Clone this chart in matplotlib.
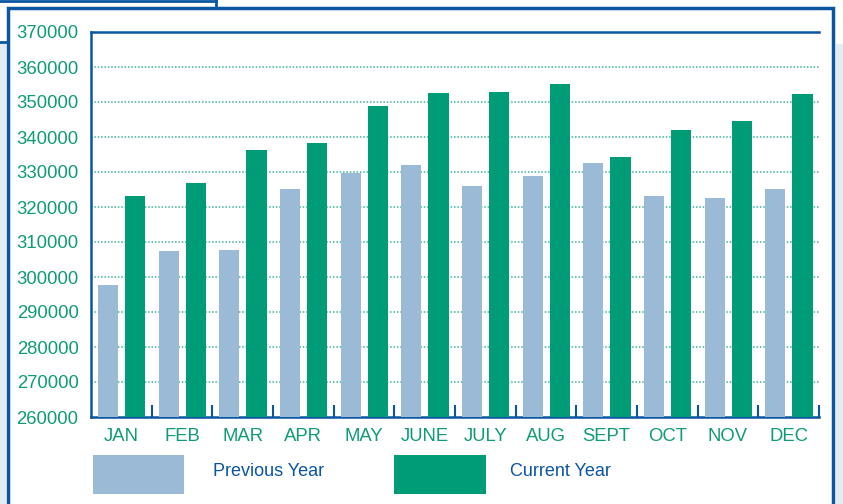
import numpy as np
import matplotlib.pyplot as plt
from matplotlib.patches import Rectangle

months = ["JAN", "FEB", "MAR", "APR", "MAY", "JUNE", "JULY", "AUG", "SEPT", "OCT", "NOV", "DEC"]
previous_year = [297800, 307300, 307600, 325100, 329600, 332000, 326000, 328900, 332600, 323100, 322600, 325100]
current_year = [323100, 326900, 336300, 338300, 348900, 352600, 352900, 355100, 334300, 342000, 344600, 352200]
y_ticks = list(range(260000, 370001, 10000))

blue = "#0a56a3"
green = "#0f9b78"
prev_color = "#9bbad6"
curr_color = "#009b77"

plt.rcParams["font.family"] = ["Liberation Sans", "DejaVu Sans"]

fig = plt.figure(figsize=(8.43, 5.04), dpi=100)

# outer frame and background bits
fig.patches.append(Rectangle((7.5 / 843, -0.05), (832.5 - 7.5) / 843, 0.05 + (504 - 7.5) / 504,
                             transform=fig.transFigure, fill=False, ec=blue, lw=2.5))
fig.patches.append(Rectangle((836 / 843, 0), 7 / 843, (504 - 44) / 504,
                             transform=fig.transFigure, fc="#e3ebf5", ec="none", zorder=-1))
fig.patches.append(Rectangle((0, 0), 6 / 843, (504 - 43) / 504,
                             transform=fig.transFigure, fc="#e3ebf5", ec="none", zorder=-1))
fig.lines.append(plt.Line2D([0, 6 / 843], [1 - 42 / 504, 1 - 42 / 504], transform=fig.transFigure,
                            color=blue, lw=2))
fig.lines.append(plt.Line2D([0, 216 / 843], [1 - 1 / 504, 1 - 1 / 504], transform=fig.transFigure,
                            color=blue, lw=2))
fig.lines.append(plt.Line2D([216 / 843, 216 / 843], [1 - 7 / 504, 1], transform=fig.transFigure,
                            color=blue, lw=2))

ax = fig.add_axes([91 / 843, 1 - 417 / 504, (819 - 91) / 843, (417 - 32) / 504])

x = np.arange(len(months))
w = 0.33
ax.bar(x - 0.222, previous_year, width=w, color=prev_color, zorder=3)
ax.bar(x + 0.228, current_year, width=w, color=curr_color, zorder=3)

ax.set_xlim(-0.5, len(months) - 0.5)
ax.set_ylim(260000, 370000)
ax.set_yticks(y_ticks)
ax.set_yticklabels([str(v) for v in y_ticks])
ax.set_xticks(x)
ax.set_xticklabels(months)
ax.set_xticks(np.arange(len(months)) + 0.5, minor=True)
ax.tick_params(axis="both", which="major", length=0, labelsize=13.3, labelcolor=green)
ax.tick_params(axis="x", which="major", pad=8)
ax.tick_params(axis="y", which="major", pad=9)
ax.tick_params(axis="x", which="minor", direction="in", length=9, width=1.5, color=blue)

for v in y_ticks[1:-1]:
    ax.axhline(v, color="#3fb39a", lw=1.1, ls=(0, (1, 1.2)), zorder=1)

for side in ["left", "bottom", "top"]:
    ax.spines[side].set_color(blue)
    ax.spines[side].set_linewidth(1.8)
ax.spines["right"].set_visible(False)

# legend
fig.patches.append(Rectangle((93 / 843, 1 - 494 / 504), 91 / 843, 39 / 504,
                             transform=fig.transFigure, fc=prev_color, ec="none"))
fig.patches.append(Rectangle((394 / 843, 1 - 494 / 504), 92 / 843, 39 / 504,
                             transform=fig.transFigure, fc=curr_color, ec="none"))
fig.text(213 / 843, 1 - 472 / 504, "Previous Year", color=blue, fontsize=13, va="center")
fig.text(510 / 843, 1 - 472 / 504, "Current Year", color=blue, fontsize=13, va="center")

fig.savefig("out.png", dpi=100)
